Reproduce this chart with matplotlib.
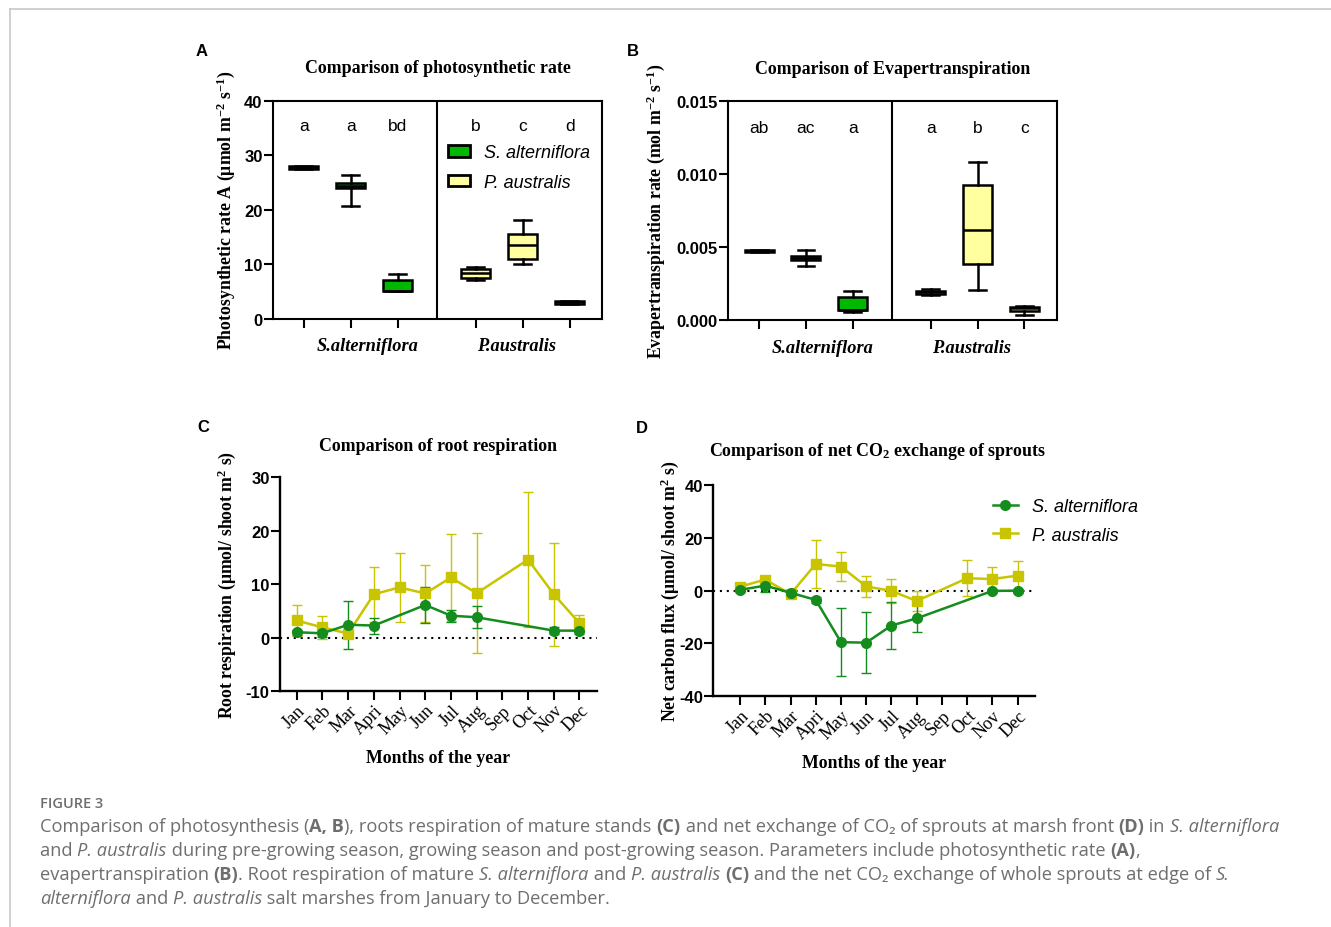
import matplotlib
matplotlib.use('Agg')
import matplotlib.pyplot as plt
from matplotlib.lines import Line2D
from matplotlib.patches import Patch

W, H = 1331, 928

plt.rcParams['font.family'] = ['Liberation Sans', 'DejaVu Sans']
plt.rcParams['axes.unicode_minus'] = False
plt.rcParams['mathtext.fontset'] = 'custom'
plt.rcParams['mathtext.rm'] = 'Liberation Serif:bold'
plt.rcParams['mathtext.bf'] = 'Liberation Serif:bold'
plt.rcParams['mathtext.it'] = 'Liberation Serif:italic:bold'

# ---- data: panels A and B (3 S. alterniflora boxes, 3 P. australis boxes) ----
group_names = ['S.alterniflora', 'P.australis']
box_pos = [1, 2, 3, 4.67, 5.67, 6.67]
box_species = ['S', 'S', 'S', 'P', 'P', 'P']

photo_lo = [27.5, 20.6, 5.0, 7.0, 10.1, 2.7]
photo_q1 = [27.5, 24.0, 5.0, 7.4, 10.9, 2.7]
photo_med = [27.8, 24.4, 5.0, 8.3, 13.6, 2.95]
photo_q3 = [28.05, 24.9, 7.1, 9.1, 15.5, 3.2]
photo_hi = [28.05, 26.4, 8.1, 9.5, 18.1, 3.2]
photo_letters = ['a', 'a', 'bd', 'b', 'c', 'd']

evap_lo = [0.00463, 0.00370, 0.00053, 0.00172, 0.00208, 0.00032]
evap_q1 = [0.00463, 0.00410, 0.00070, 0.00178, 0.00384, 0.00065]
evap_med = [0.00472, 0.00425, 0.00070, 0.00190, 0.00620, 0.00080]
evap_q3 = [0.00482, 0.00440, 0.00160, 0.00200, 0.00928, 0.00092]
evap_hi = [0.00482, 0.00482, 0.00197, 0.00213, 0.01086, 0.00098]
evap_letters = ['ab', 'ac', 'a', 'a', 'b', 'c']

# ---- data: panels C and D (monthly means +- error, None = not measured) ----
months = ['Jan', 'Feb', 'Mar', 'Apri', 'May', 'Jun', 'Jul', 'Aug', 'Sep', 'Oct', 'Nov', 'Dec']

root_s = [1.0, 0.8, 2.4, 2.25, None, 6.1, 4.1, 3.8, None, None, 1.3, 1.3]
root_s_err = [0.5, 0.6, 4.5, 1.5, None, 3.3, 1.1, 2.1, None, None, 0.6, 0.7]
root_p = [3.2, 1.9, 0.75, 8.1, 9.4, 8.25, 11.25, 8.3, None, 14.6, 8.1, 2.7]
root_p_err = [2.9, 2.2, 0.6, 5.1, 6.4, 5.25, 8.1, 11.2, None, 12.7, 9.6, 1.55]

net_s = [0.3, 1.9, -0.8, -3.5, -19.5, -19.7, -13.2, -10.5, None, None, -0.1, 0.0]
net_s_err = [0.8, 2.4, 0.8, 1.2, 12.8, 11.5, 9.0, 5.1, None, None, 0.8, 0.8]
net_p = [1.5, 4.2, -1.3, 10.1, 9.1, 1.6, -0.1, -3.9, None, 4.7, 4.4, 5.7]
net_p_err = [1.2, 1.2, 1.0, 9.2, 5.6, 4.1, 4.4, 3.7, None, 6.9, 4.6, 5.4]

green_fill = '#00b800'
yellow_fill = '#ffffa0'
green_line = '#148c1e'
yellow_line = '#c8c400'
serif = 'Liberation Serif'


def px_axes(left, top, right, bottom):
    return [left / W, 1 - bottom / H, (right - left) / W, (bottom - top) / H]


fig = plt.figure(figsize=(W / 100, H / 100), dpi=100)

# thin frame of the figure page
fig.add_artist(Line2D([10 / W, 10 / W], [0, 1 - 10 / H], transform=fig.transFigure,
                      color='#c8c8c8', lw=1.2))
fig.add_artist(Line2D([10 / W, 1], [1 - 10 / H, 1 - 10 / H], transform=fig.transFigure,
                      color='#c8c8c8', lw=1.2))


def box_panel(ax, lo, q1, med, q3, hi, letters, letter_y, ylim, yticks, fmt,
              title, ylabel, ylabel_x):
    stats = []
    for i in range(len(box_pos)):
        stats.append(dict(whislo=lo[i], q1=q1[i], med=med[i], q3=q3[i],
                          whishi=hi[i], fliers=[]))
    bp = ax.bxp(stats, positions=box_pos, widths=0.62, capwidths=0.36,
                patch_artist=True, showfliers=False,
                boxprops=dict(linewidth=1.8, edgecolor='k'),
                medianprops=dict(color='k', linewidth=1.8),
                whiskerprops=dict(color='k', linewidth=1.8),
                capprops=dict(color='k', linewidth=1.8))
    for patch, sp in zip(bp['boxes'], box_species):
        patch.set_facecolor(green_fill if sp == 'S' else yellow_fill)
    ax.axvline(3.84, color='k', lw=1.5)
    ax.set_xlim(0.34, 7.36)
    ax.set_ylim(*ylim)
    ax.set_yticks(yticks)
    ax.set_yticklabels([fmt % v for v in yticks], fontweight='bold', fontsize=12)
    ax.set_xticks(box_pos)
    ax.set_xticklabels([])
    for sp in ax.spines.values():
        sp.set_linewidth(1.5)
    ax.tick_params(direction='out', length=6.5, width=1.5, pad=1)
    for x, s in zip(box_pos, letters):
        ax.text(x, letter_y, s, ha='center', va='center', fontsize=12.5)
    tr = ax.get_xaxis_transform()
    ax.text(2.36, -0.126, group_names[0], transform=tr, ha='center', va='center',
            family=serif, weight='bold', style='italic', fontsize=13.2)
    ax.text(5.53, -0.126, group_names[1], transform=tr, ha='center', va='center',
            family=serif, weight='bold', style='italic', fontsize=13.2)
    ax.text(0.5, 1.152, title, transform=ax.transAxes, ha='center', va='center',
            family=serif, weight='bold', fontsize=12.9)
    ax.set_ylabel(ylabel, family=serif, weight='bold', fontsize=12.8)
    ax.yaxis.set_label_coords(ylabel_x, 0.5)


axA = fig.add_axes(px_axes(273, 102, 602, 319.5))
box_panel(axA, photo_lo, photo_q1, photo_med, photo_q3, photo_hi, photo_letters, 35.5,
          (0, 40), [0, 10, 20, 30, 40], '%d', 'Comparison of photosynthetic rate',
          r'Photosynthetic rate A (μmol m$^{-2}$ s$^{-1}$)', -0.109)
axA.legend(handles=[Patch(facecolor=green_fill, edgecolor='k', lw=2),
                    Patch(facecolor=yellow_fill, edgecolor='k', lw=2)],
           labels=['S. alterniflora', 'P. australis'], loc='center left',
           bbox_to_anchor=(0.532, 0.694), frameon=False, borderpad=0, borderaxespad=0,
           handlelength=1.2, handleheight=0.6, handletextpad=0.8, labelspacing=0.7,
           prop=dict(style='italic', size=13))

axB = fig.add_axes(px_axes(728.3, 102.3, 1056.7, 321))
box_panel(axB, evap_lo, evap_q1, evap_med, evap_q3, evap_hi, evap_letters, 0.0132,
          (0, 0.015), [0, 0.005, 0.010, 0.015], '%.3f', 'Comparison of Evapertranspiration',
          r'Evapertranspiration rate (mol m$^{-2}$ s$^{-1}$)', -0.187)


def line_panel(ax, s_vals, s_err, p_vals, p_err, ylim, yticks, xlim, title, title_x,
               title_y, ylabel, ylabel_x):
    ax.axhline(0, color='k', lw=1.5, ls=(0, (1, 2.3)), zorder=1)
    for vals, err, col, mk in [(p_vals, p_err, yellow_line, 's'),
                               (s_vals, s_err, green_line, 'o')]:
        xs = [i for i, v in enumerate(vals) if v is not None]
        ys = [vals[i] for i in xs]
        es = [err[i] for i in xs]
        ax.errorbar(xs, ys, yerr=es, color=col, lw=1.8, marker=mk, ms=7,
                    elinewidth=1.0, capsize=3.5, capthick=1.0, zorder=3)
    ax.set_xlim(*xlim)
    ax.set_ylim(*ylim)
    ax.set_yticks(yticks)
    ax.set_yticklabels([str(v) for v in yticks], fontweight='bold', fontsize=12)
    ax.set_xticks(range(12))
    ax.set_xticklabels(months, rotation=45, ha='right', va='top', rotation_mode='anchor',
                       family=serif, fontsize=13)
    for side in ['top', 'right']:
        ax.spines[side].set_visible(False)
    for side in ['left', 'bottom']:
        ax.spines[side].set_linewidth(1.7)
    ax.tick_params(direction='out', length=6.5, width=1.5, pad=1)
    ax.text(title_x, title_y, title, transform=ax.transAxes, ha='center', va='center',
            family=serif, weight='bold', fontsize=12.9)
    ax.set_ylabel(ylabel, family=serif, weight='bold', fontsize=12.8)
    ax.yaxis.set_label_coords(ylabel_x, 0.5)
    ax.set_xlabel('Months of the year', family=serif, weight='bold', fontsize=12.8)
    ax.xaxis.set_label_coords(0.5, -0.272)


axC = fig.add_axes(px_axes(280, 478.3, 596.7, 692))
line_panel(axC, root_s, root_s_err, root_p, root_p_err, (-10, 30), [-10, 0, 10, 20, 30],
           (-0.65, 11.67), 'Comparison of root respiration', 0.5, 1.148,
           r'Root respiration (μmol/ shoot m$^{2}$ s)', -0.133)

axD = fig.add_axes(px_axes(713.3, 486, 1035, 697.3))
line_panel(axD, net_s, net_s_err, net_p, net_p_err, (-40, 40), [-40, -20, 0, 20, 40],
           (-1.06, 11.69), r'Comparison of net CO$_2$ exchange of sprouts', 0.512, 1.162,
           r'Net carbon flux (μmol/ shoot m$^{2}$ s)', -0.10)
axD.legend(handles=[Line2D([], [], color=green_line, marker='o', ms=7, lw=1.8),
                    Line2D([], [], color=yellow_line, marker='s', ms=7, lw=1.8)],
           labels=['S. alterniflora', 'P. australis'], loc='center left',
           bbox_to_anchor=(0.869, 0.83), frameon=False, borderpad=0, borderaxespad=0,
           handlelength=1.4, handletextpad=0.75, labelspacing=0.65,
           prop=dict(style='italic', size=13))

# panel letters
for lab, x, y in [('A', 202, 52), ('B', 633, 52), ('C', 203, 428), ('D', 642, 429)]:
    fig.text(x / W, 1 - y / H, lab, ha='center', va='center', weight='bold', fontsize=12)

# ---- caption ----
cap_color = '#6e6e6e'
cap_font = ['Open Sans', 'DejaVu Sans']
fig.text(40 / W, 1 - 804 / H, 'FIGURE 3', ha='left', va='center', family=cap_font,
         weight='semibold', fontsize=10.5, color=cap_color)

caption = [
    [('Comparison of photosynthesis (', ''), ('A, B', 'b'), ('), roots respiration of mature stands ', ''),
     ('(C)', 'b'), (' and net exchange of CO₂ of sprouts at marsh front ', ''), ('(D)', 'b'),
     (' in ', ''), ('S. alterniflora', 'i')],
    [('and ', ''), ('P. australis', 'i'),
     (' during pre-growing season, growing season and post-growing season. Parameters include photosynthetic rate ', ''),
     ('(A)', 'b'), (',', '')],
    [('evapertranspiration ', ''), ('(B)', 'b'), ('. Root respiration of mature ', ''),
     ('S. alterniflora', 'i'), (' and ', ''), ('P. australis', 'i'), (' ', ''), ('(C)', 'b'),
     (' and the net CO₂ exchange of whole sprouts at edge of ', ''), ('S.', 'i')],
    [('alterniflora', 'i'), (' and ', ''), ('P. australis', 'i'),
     (' salt marshes from January to December.', '')],
]
cap_size = 13.15
renderer = fig.canvas.get_renderer()
for row, runs in enumerate(caption):
    x = 40.0
    y = 832 + 24 * row
    for s, st in runs:
        kw = dict(fontsize=cap_size, color=cap_color, family=cap_font)
        if st == 'b':
            kw['weight'] = 'bold'
        if st == 'i':
            kw['style'] = 'italic'
        fig.text(x / W, 1 - y / H, s, ha='left', va='baseline', **kw)
        probe = fig.text(0, 0, s + '|', **kw)
        bar = fig.text(0, 0, '|', **kw)
        x += probe.get_window_extent(renderer).width - bar.get_window_extent(renderer).width
        probe.remove()
        bar.remove()

fig.savefig('out.png', dpi=100)
